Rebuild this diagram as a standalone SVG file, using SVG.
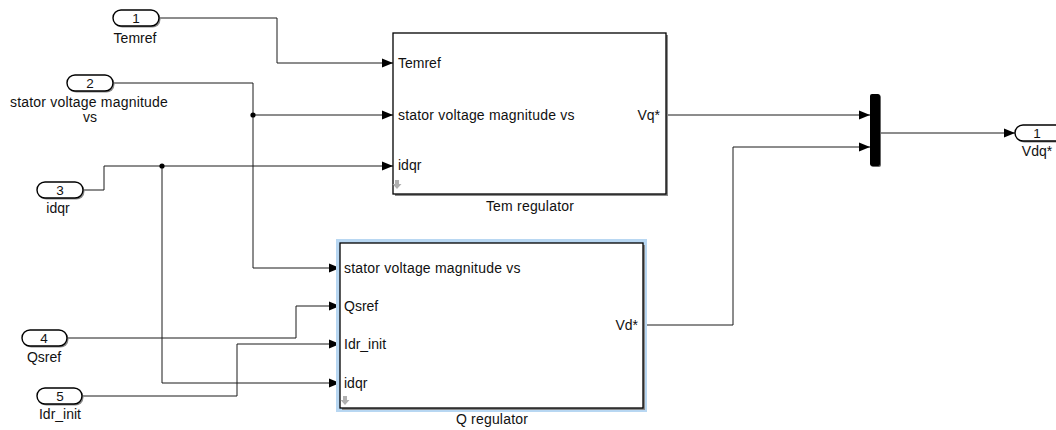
<svg xmlns="http://www.w3.org/2000/svg" width="1056" height="430" viewBox="0 0 1056 430">
<style>
text{font-family:"Liberation Sans",Arial,sans-serif;font-size:14px;fill:#111}
.c{text-anchor:middle}
.r{text-anchor:end}
.d{font-size:13.5px}
.pill{fill:#fff;stroke:#000;stroke-width:1.4}
.sh{fill:#8a8a8a}
.box{fill:#fff;stroke:#000;stroke-width:1.3}
.w{fill:none;stroke:#1a1a1a;stroke-width:1}
.dot{fill:#000}
.icon{fill:#b0b0b0}
.lb{letter-spacing:0.2px}
</style>
<defs>
<marker id="ar" markerUnits="userSpaceOnUse" markerWidth="11" markerHeight="10" refX="11" refY="5" orient="auto">
<path d="M0,0.5 L11,5 L0,9.5 z" fill="#000"/>
</marker>
</defs>
<rect width="1056" height="430" fill="#fff"/>

<g id="connectors">
<polyline class="w" points="160,18 277,18 277,63 393,63" marker-end="url(#ar)"/>
<polyline class="w" points="113,83 253,83 253,268 340,268" marker-end="url(#ar)"/>
<polyline class="w" points="253,115 393,115" marker-end="url(#ar)"/>
<polyline class="w" points="83,190 104,190 104,166 393,166" marker-end="url(#ar)"/>
<polyline class="w" points="162,166 162,383 340,383" marker-end="url(#ar)"/>
<polyline class="w" points="67,338 296,338 296,306 340,306" marker-end="url(#ar)"/>
<polyline class="w" points="82,396 237,396 237,344 340,344" marker-end="url(#ar)"/>
<polyline class="w" points="666,115 870,115" marker-end="url(#ar)"/>
<polyline class="w" points="643,325 733,325 733,147 870,147" marker-end="url(#ar)"/>
<polyline class="w" points="880,133 1015,133" marker-end="url(#ar)"/>
<circle class="dot" cx="253" cy="115" r="2.6"/>
<circle class="dot" cx="162" cy="166" r="2.6"/>
</g>

<g id="in1">
<rect class="sh" x="114.5" y="11.5" width="46" height="16" rx="8"/>
<rect class="pill" x="113" y="10" width="46" height="16" rx="8"/>
<text class="c d" x="136" y="23">1</text>
<text class="c" x="135" y="43">Temref</text>
</g>
<g id="in2">
<rect class="sh" x="68.5" y="76.5" width="46" height="16" rx="8"/>
<rect class="pill" x="67" y="75" width="46" height="16" rx="8"/>
<text class="c d" x="90" y="88">2</text>
<text class="c lb" x="89" y="107">stator voltage magnitude</text>
<text class="c" x="90" y="122">vs</text>
</g>
<g id="in3">
<rect class="sh" x="38.5" y="183.5" width="46" height="16" rx="8"/>
<rect class="pill" x="37" y="182" width="46" height="16" rx="8"/>
<text class="c d" x="60" y="195">3</text>
<text class="c" x="58" y="213">idqr</text>
</g>
<g id="in4">
<rect class="sh" x="23.5" y="331.5" width="45" height="16" rx="8"/>
<rect class="pill" x="22" y="330" width="45" height="16" rx="8"/>
<text class="c d" x="44" y="343">4</text>
<text class="c" x="44" y="362">Qsref</text>
</g>
<g id="in5">
<rect class="sh" x="38.5" y="389.5" width="45" height="16" rx="8"/>
<rect class="pill" x="37" y="388" width="45" height="16" rx="8"/>
<text class="c d" x="60" y="401">5</text>
<text class="c" x="60" y="419">Idr_init</text>
</g>

<g id="tem">
<rect class="sh" x="395" y="35" width="273" height="161"/>
<rect class="box" x="393" y="33" width="273" height="161"/>
<text x="398" y="68">Temref</text>
<text class="lb" x="398" y="120">stator voltage magnitude vs</text>
<text x="398" y="170">idqr</text>
<text class="r" x="660" y="120">Vq*</text>
<polygon class="icon" points="395,180 399,180 399,184 401.5,184 397,189 392.5,184 395,184"/>
<text class="c lb" x="530" y="211">Tem regulator</text>
</g>

<g id="q">
<rect x="336" y="239" width="311" height="173" fill="#b8d7f2"/>
<rect class="sh" x="342" y="245" width="303" height="165"/>
<rect class="box" x="340" y="243" width="303" height="165"/>
<text class="lb" x="344" y="273">stator voltage magnitude vs</text>
<text x="344" y="311">Qsref</text>
<text x="344" y="349">Idr_init</text>
<text x="344" y="388">idqr</text>
<text class="r" x="638" y="330">Vd*</text>
<polygon class="icon" points="343,396 347,396 347,400 349.5,400 345,405 340.5,400 343,400"/>
<text class="c lb" x="492" y="424">Q regulator</text>
</g>

<g id="mux">
<rect x="871" y="95" width="10" height="72" rx="2" fill="#666"/>
<rect x="870" y="94" width="10" height="72" rx="2" fill="#000"/>
</g>

<g id="out1">
<rect class="sh" x="1016.5" y="126.5" width="48" height="16" rx="8"/>
<rect class="pill" x="1015" y="125" width="48" height="16" rx="8"/>
<text class="c d" x="1037" y="138">1</text>
<text class="c" x="1037" y="156">Vdq*</text>
</g>
</svg>
